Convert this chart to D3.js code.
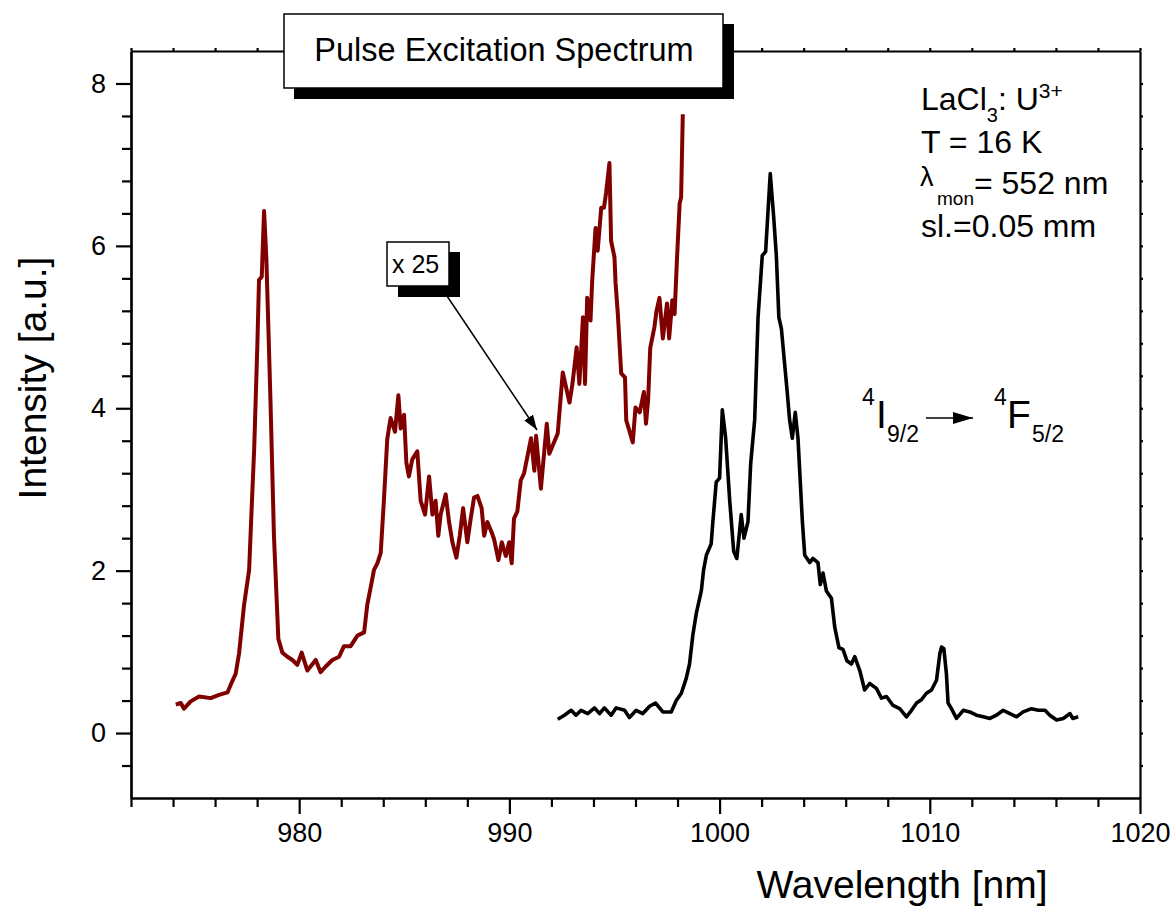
<!DOCTYPE html>
<html>
<head>
<meta charset="utf-8">
<script src="https://cdn.jsdelivr.net/npm/d3@7"></script>
<style>
  body { margin: 0; background: #fff; }
  text { font-family: "Liberation Sans", Arial, sans-serif; fill: #000; }
</style>
</head>
<body>
<div class="spectrum"></div>
<script>
// scaled (x 25) excitation spectrum, dark red
const redWavelength = [974.13, 974.37, 974.52, 974.84, 975.24, 975.79, 976.19, 976.59, 976.82, 976.98,
	977.14, 977.38, 977.62, 977.74, 977.86, 978.01, 978.09, 978.22, 978.33, 978.44,
	978.64, 978.80, 979.01, 979.20, 979.44, 979.68, 979.91, 980.12, 980.39, 980.79,
	981.02, 981.26, 981.58, 981.90, 982.13, 982.45, 982.77, 983.09, 983.24, 983.40,
	983.56, 983.72, 983.88, 984.03, 984.19, 984.35, 984.56, 984.72, 984.83, 984.99,
	985.10, 985.22, 985.38, 985.62, 985.78, 985.99, 986.18, 986.34, 986.49, 986.62,
	986.73, 986.97, 987.13, 987.29, 987.48, 987.64, 987.80, 988.00, 988.16, 988.32,
	988.48, 988.68, 988.80, 988.95, 989.16, 989.27, 989.48, 989.64, 989.83, 989.99,
	990.11, 990.22, 990.38, 990.54, 990.70, 991.03, 991.19, 991.27, 991.50, 991.78,
	991.90, 992.30, 992.54, 992.86, 993.00, 993.20, 993.33, 993.50, 993.60, 993.70,
	993.86, 993.94, 994.10, 994.20, 994.37, 994.50, 994.60, 994.76, 994.84, 995.00,
	995.05, 995.16, 995.32, 995.50, 995.56, 995.70, 995.87, 996.00, 996.20, 996.40,
	996.50, 996.60, 996.70, 996.90, 997.00, 997.14, 997.30, 997.50, 997.60, 997.75,
	997.86, 997.97, 998.10, 998.17, 998.25];
const redIntensity = [0.35, 0.37, 0.30, 0.39, 0.45, 0.43, 0.47, 0.50, 0.64, 0.73,
	0.98, 1.58, 2.01, 2.77, 3.50, 4.77, 5.58, 5.62, 6.43, 5.84,
	4.05, 2.43, 1.16, 0.99, 0.94, 0.90, 0.84, 0.99, 0.77, 0.90,
	0.75, 0.82, 0.90, 0.94, 1.07, 1.07, 1.20, 1.24, 1.58, 1.79,
	2.01, 2.09, 2.22, 2.86, 3.62, 3.88, 3.71, 4.16, 3.75, 3.92,
	3.33, 3.16, 3.37, 3.47, 2.86, 2.69, 3.16, 2.69, 2.86, 2.43,
	2.69, 2.94, 2.60, 2.35, 2.16, 2.43, 2.77, 2.35, 2.64, 2.90,
	2.92, 2.77, 2.43, 2.60, 2.47, 2.39, 2.13, 2.35, 2.18, 2.35,
	2.09, 2.64, 2.73, 3.11, 3.20, 3.63, 3.23, 3.66, 3.01, 3.81,
	3.44, 3.69, 4.44, 4.07, 4.30, 4.75, 4.30, 5.12, 4.30, 5.36,
	5.08, 5.57, 6.22, 5.94, 6.47, 6.47, 6.65, 7.02, 6.06, 5.86,
	5.55, 5.16, 4.43, 4.38, 3.85, 3.73, 3.58, 4.01, 3.95, 4.20,
	3.81, 4.10, 4.74, 5.00, 5.20, 5.36, 4.86, 5.29, 4.86, 5.33,
	5.16, 5.82, 6.52, 6.60, 7.62];

// unscaled spectrum, black
const blackWavelength = [992.30, 992.62, 992.94, 993.17, 993.41, 993.73, 994.05, 994.29, 994.52, 994.84,
	995.08, 995.48, 995.71, 996.03, 996.35, 996.67, 996.95, 997.30, 997.70, 997.94,
	998.18, 998.41, 998.57, 998.73, 998.89, 999.13, 999.24, 999.37, 999.60, 999.68,
	999.84, 1000.00, 1000.13, 1000.29, 1000.48, 1000.67, 1000.82, 1001.03, 1001.16, 1001.35,
	1001.48, 1001.67, 1001.83, 1002.03, 1002.19, 1002.41, 1002.57, 1002.70, 1002.82, 1002.94,
	1003.21, 1003.33, 1003.46, 1003.60, 1003.73, 1003.94, 1004.05, 1004.16, 1004.29, 1004.44,
	1004.68, 1004.79, 1004.92, 1005.08, 1005.32, 1005.48, 1005.68, 1005.87, 1006.06, 1006.27,
	1006.43, 1006.67, 1006.90, 1007.14, 1007.46, 1007.70, 1007.94, 1008.25, 1008.57, 1008.89,
	1009.13, 1009.37, 1009.60, 1009.84, 1010.08, 1010.32, 1010.48, 1010.56, 1010.67, 1010.79,
	1010.87, 1011.03, 1011.27, 1011.59, 1011.90, 1012.22, 1012.54, 1012.86, 1013.17, 1013.49,
	1013.81, 1014.13, 1014.44, 1014.84, 1015.16, 1015.48, 1015.71, 1016.03, 1016.35, 1016.67,
	1016.80, 1017.06];
const blackIntensity = [0.17, 0.22, 0.28, 0.22, 0.28, 0.24, 0.31, 0.24, 0.31, 0.22,
	0.31, 0.28, 0.19, 0.28, 0.24, 0.33, 0.37, 0.26, 0.26, 0.40,
	0.49, 0.67, 0.85, 1.21, 1.47, 1.75, 2.01, 2.19, 2.33, 2.60,
	3.09, 3.14, 3.98, 3.63, 2.87, 2.24, 2.15, 2.69, 2.40, 2.60,
	3.32, 3.86, 5.12, 5.88, 5.93, 6.89, 6.37, 5.88, 5.12, 4.98,
	4.22, 3.86, 3.63, 3.95, 3.63, 2.60, 2.19, 2.15, 2.10, 2.15,
	2.10, 1.83, 1.97, 1.75, 1.66, 1.30, 1.05, 1.03, 0.89, 0.85,
	0.94, 0.77, 0.53, 0.61, 0.55, 0.43, 0.45, 0.34, 0.30, 0.20,
	0.28, 0.37, 0.41, 0.49, 0.53, 0.65, 0.98, 1.06, 1.04, 0.73,
	0.37, 0.30, 0.18, 0.28, 0.26, 0.22, 0.20, 0.18, 0.22, 0.28,
	0.24, 0.20, 0.26, 0.30, 0.28, 0.28, 0.22, 0.16, 0.18, 0.24,
	0.18, 0.20];

const xMajorTicks = [980, 990, 1000, 1010, 1020];
const xMinorTicks = d3.range(972, 1020, 2).filter(v => v % 10 !== 0);
const yMajorTicks = [0, 2, 4, 6, 8];
const yMinorTicks = [-0.4, 0.4, 0.8, 1.2, 1.6, 2.4, 2.8, 3.2, 3.6, 4.4, 4.8, 5.2, 5.6, 6.4, 6.8, 7.2, 7.6];

const width = 1173;
const height = 909;
const svg = d3.select('.spectrum')
	.append('svg')
	.attr('width', width)
	.attr('height', height);

const x = d3.scaleLinear().domain([972, 1020]).range([131, 1140]);
const y = d3.scaleLinear().domain([-0.8, 8.4]).range([798, 51]);

// top and right frame with tiny ticks
svg.append('g')
	.attr('transform', 'translate(0,51)')
	.call(d3.axisTop(x).tickValues(xMajorTicks.concat(xMinorTicks)).tickSize(3).tickSizeOuter(0).tickFormat(''));
svg.append('g')
	.attr('transform', 'translate(1140,0)')
	.call(d3.axisRight(y).tickValues(yMajorTicks.concat(yMinorTicks)).tickSize(3).tickSizeOuter(0).tickFormat(''));

// bottom axis
svg.append('g')
	.attr('transform', 'translate(0,798)')
	.call(d3.axisBottom(x).tickValues(xMinorTicks).tickSize(9).tickSizeOuter(0).tickFormat(''));
svg.append('g')
	.attr('transform', 'translate(0,798)')
	.call(d3.axisBottom(x).tickValues(xMajorTicks).tickSize(16).tickSizeOuter(0).tickPadding(9).tickFormat(d3.format('d')));

// left axis
svg.append('g')
	.attr('transform', 'translate(131,0)')
	.call(d3.axisLeft(y).tickValues(yMinorTicks).tickSize(9).tickSizeOuter(0).tickFormat(''));
svg.append('g')
	.attr('transform', 'translate(131,0)')
	.call(d3.axisLeft(y).tickValues(yMajorTicks).tickSize(15).tickSizeOuter(0).tickPadding(10).tickFormat(d3.format('d')));

svg.selectAll('.domain, .tick line')
	.attr('stroke', '#000')
	.attr('stroke-width', 2.2);
svg.selectAll('.tick text')
	.attr('font-size', '27px')
	.attr('font-family', '"Liberation Sans", Arial, sans-serif')
	.attr('fill', '#000');

// axis titles
svg.append('text')
	.attr('x', 902)
	.attr('y', 898)
	.attr('text-anchor', 'middle')
	.attr('font-size', '39px')
	.text('Wavelength [nm]');
svg.append('text')
	.attr('transform', 'translate(46,378) rotate(-90)')
	.attr('text-anchor', 'middle')
	.attr('font-size', '39px')
	.text('Intensity [a.u.]');

// spectra
const redData = redWavelength.map((w, i) => [w, redIntensity[i]]);
const blackData = blackWavelength.map((w, i) => [w, blackIntensity[i]]);
const line = d3.line().x(d => x(d[0])).y(d => y(d[1]));

svg.append('path')
	.datum(blackData)
	.attr('d', line)
	.attr('fill', 'none')
	.attr('stroke', '#000')
	.attr('stroke-width', 3.6)
	.attr('stroke-linejoin', 'round');

svg.append('path')
	.datum(redData)
	.attr('d', line)
	.attr('fill', 'none')
	.attr('stroke', '#800000')
	.attr('stroke-width', 4)
	.attr('stroke-linejoin', 'round');

// title box with drop shadow
svg.append('rect').attr('x', 294).attr('y', 24).attr('width', 440).attr('height', 75).attr('fill', '#000');
svg.append('rect').attr('x', 284).attr('y', 14).attr('width', 439).attr('height', 74)
	.attr('fill', '#fff').attr('stroke', '#000').attr('stroke-width', 1.5);
svg.append('text')
	.attr('x', 504)
	.attr('y', 61)
	.attr('text-anchor', 'middle')
	.attr('font-size', '32.5px')
	.text('Pulse Excitation Spectrum');

// x 25 label and arrow
svg.append('defs').append('marker')
	.attr('id', 'head')
	.attr('viewBox', '0 0 10 10')
	.attr('refX', 10).attr('refY', 5)
	.attr('markerWidth', 15).attr('markerHeight', 15)
	.attr('markerUnits', 'userSpaceOnUse')
	.attr('orient', 'auto')
	.append('path').attr('d', 'M0,1.5 L10,5 L0,8.5 Z').attr('fill', '#000');

svg.append('line')
	.attr('x1', 447).attr('y1', 296)
	.attr('x2', 537).attr('y2', 430)
	.attr('stroke', '#000').attr('stroke-width', 1.5)
	.attr('marker-end', 'url(#head)');
svg.append('rect').attr('x', 398).attr('y', 252).attr('width', 62).attr('height', 45).attr('fill', '#000');
svg.append('rect').attr('x', 387).attr('y', 242).attr('width', 62).attr('height', 44)
	.attr('fill', '#fff').attr('stroke', '#000').attr('stroke-width', 1.5);
svg.append('text')
	.attr('x', 392)
	.attr('y', 273)
	.attr('font-size', '25px')
	.text('x 25');

// sample info
const info = svg.append('text').attr('font-size', '32px');
info.append('tspan').attr('x', 921).attr('y', 110).text('LaCl');
info.append('tspan').attr('font-size', '20px').attr('dy', 12).text('3');
info.append('tspan').attr('dy', -12).text(': U');
info.append('tspan').attr('font-size', '21px').attr('dy', -12).text('3+');
info.append('tspan').attr('x', 921).attr('y', 153).text('T = 16 K');
info.append('tspan').attr('x', 920).attr('y', 186).attr('font-size', '27px').text('λ');
info.append('tspan').attr('x', 937).attr('y', 205).attr('font-size', '19px').text('mon');
info.append('tspan').attr('y', 194).text('= 552 nm');
info.append('tspan').attr('x', 921).attr('y', 237).text('sl.=0.05 mm');

// transition label
const trans = svg.append('text').attr('font-size', '39px');
trans.append('tspan').attr('x', 862).attr('y', 405).attr('font-size', '23px').text('4');
trans.append('tspan').attr('x', 876).attr('y', 428).text('I');
trans.append('tspan').attr('x', 887).attr('y', 442).attr('font-size', '23px').text('9/2');
trans.append('tspan').attr('x', 994).attr('y', 405).attr('font-size', '23px').text('4');
trans.append('tspan').attr('x', 1007).attr('y', 428).text('F');
trans.append('tspan').attr('x', 1032).attr('y', 442).attr('font-size', '23px').text('5/2');

svg.append('line')
	.attr('x1', 926).attr('y1', 418)
	.attr('x2', 973).attr('y2', 418)
	.attr('stroke', '#000').attr('stroke-width', 1.5);
svg.append('path')
	.attr('d', 'M953,412 L973,418 L953,424 Z')
	.attr('fill', '#000');
</script>
</body>
</html>
